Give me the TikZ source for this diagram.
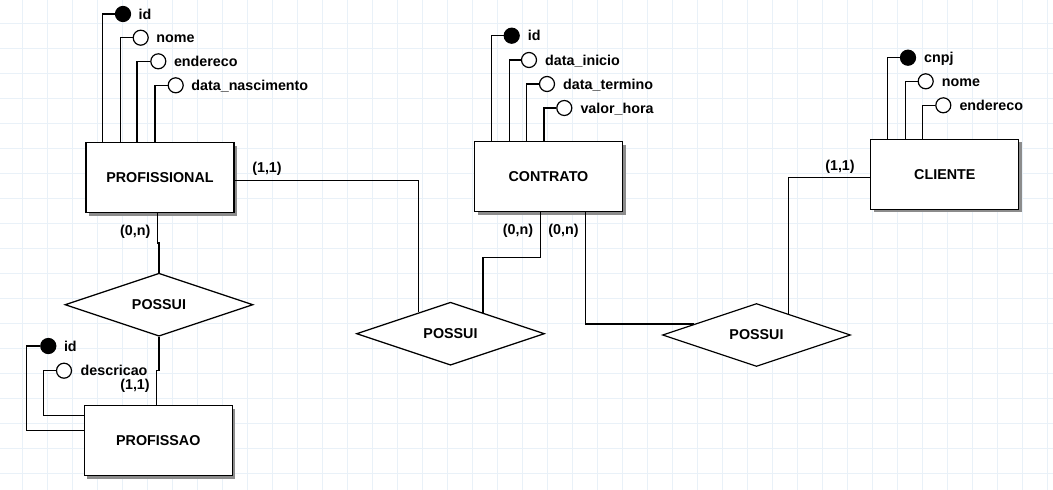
\documentclass[tikz,border=0pt]{standalone}
\usepackage{fontspec}
\setmainfont{Liberation Sans}
\usetikzlibrary{shapes, positioning, shadows}
\definecolor{gridline}{RGB}{233,241,248}

\begin{document}
\begin{tikzpicture}[x=1pt, y=-1pt, line width=1.2pt,
        every node/.style={font=\fontsize{14.3}{17}\selectfont\bfseries},
        entity/.style={draw, fill=white, minimum width=148pt, minimum height=70pt,
            drop shadow={shadow xshift=3pt, shadow yshift=-3pt, fill=black!45, opacity=1}},
        relation/.style={draw, diamond, aspect=3, inner sep=0pt, fill=white,
            minimum width=188pt, minimum height=63pt},
        attr/.style={draw, circle, fill=white, inner sep=0pt, minimum size=15pt},
        key/.style={attr, fill=black},
        attrtext/.style={inner sep=0pt, text height=10pt, text depth=0pt},
        card/.style={inner sep=0pt}]
        \useasboundingbox (0,0) rectangle (1053,490);
        \fill[white] (0,0) rectangle (1053,490);
        \foreach \gx in {0,...,41} \draw[gridline, line width=1pt] (22.7+25*\gx,0) -- (22.7+25*\gx,490);
        \foreach \gy in {0,...,18} \draw[gridline, line width=1pt] (0,23.3+25*\gy) -- (1053,23.3+25*\gy);

        \node[entity] (prof) at (160,177.7) {PROFISSIONAL};
        \node[entity] (contrato) at (548.5,176.8) {CONTRATO};
        \node[entity] (cliente) at (944.8,174.2) {CLIENTE};
        \node[entity] (profissao) at (158.3,440.8) {PROFISSAO};

        \node[relation] (possui1) at (159,304.7) {POSSUI};
        \node[relation] (possui2) at (450.5,333.7) {POSSUI};
        \node[relation] (possui3) at (756.5,335) {POSSUI};

        \node[key] (pid) at (123,14) {}; \node[attrtext, right=7pt of pid] (pidt) {id};
        \node[attr] (pnome) at (140.7,37.7) {}; \node[attrtext, right=7pt of pnome] (pnomet) {nome};
        \node[attr] (pend) at (158.3,61.3) {}; \node[attrtext, right=7pt of pend] (pendt) {endereco};
        \node[attr] (pnasc) at (175.7,85.3) {}; \node[attrtext, right=7pt of pnasc] (pnasct) {data\_nascimento};
        \draw[] ([xshift=17pt]prof.north west) |- (pid.west);
        \draw[] ([xshift=35pt]prof.north west) |- (pnome.west);
        \draw[] ([xshift=51.6pt]prof.north west) |- (pend.west);
        \draw[] ([xshift=69.6pt]prof.north west) |- (pnasc.west);

        \node[key] (cid) at (511.7,35.7) {}; \node[attrtext, right=7.5pt of cid] (cidt) {id};
        \node[attr] (cini) at (529,60) {}; \node[attrtext, right=7.5pt of cini] (cinit) {data\_inicio};
        \node[attr] (cter) at (547,84) {}; \node[attrtext, right=7.5pt of cter] (ctert) {data\_termino};
        \node[attr] (cval) at (564.3,108) {}; \node[attrtext, right=7.5pt of cval] (cvalt) {valor\_hora};
        \draw[] ([xshift=17.4pt]contrato.north west) |- (cid.west);
        \draw[] ([xshift=35.4pt]contrato.north west) |- (cini.west);
        \draw[] ([xshift=52.4pt]contrato.north west) |- (cter.west);
        \draw[] ([xshift=70pt]contrato.north west) |- (cval.west);

        \node[key] (kcnpj) at (908,57.7) {}; \node[attrtext, right=7.5pt of kcnpj] (kcnpjt) {cnpj};
        \node[attr] (knome) at (925.7,81.3) {}; \node[attrtext, right=7.5pt of knome] (knomet) {nome};
        \node[attr] (kend) at (943.3,105.3) {}; \node[attrtext, right=7.5pt of kend] (kendt) {endereco};
        \draw[] ([xshift=17.4pt]cliente.north west) |- (kcnpj.west);
        \draw[] ([xshift=35pt]cliente.north west) |- (knome.west);
        \draw[] ([xshift=52pt]cliente.north west) |- (kend.west);

        \node[key] (fid) at (48.3,346) {}; \node[attrtext, right=7pt of fid] (fidt) {id};
        \node[attr] (fdesc) at (64,370.7) {}; \node[attrtext, right=8pt of fdesc] (fdesct) {descricao};
        \draw[] (fid.west) -- ++(-13.5,0) |- ([yshift=10.5pt]profissao.west);
        \draw[] (fdesc.west) -- ++(-12.2,0) |- ([yshift=25pt]profissao.west);

        \draw[] ([xshift=-2.3pt]prof.south) -- ++(0,29.6) -| (possui1.north);
        \draw[] (possui1.south) -- ++(0,34) -| ([xshift=-1.6pt]profissao.north);
        \draw[] ([yshift=-2.6pt]prof.east) -| (possui2.146.6);
        \draw[] ([xshift=-8.2pt]contrato.south) -- ++(0,45) -| (possui2.33.8);
        \draw[] ([xshift=37.2pt]contrato.south) |- (possui3.170.5);
        \draw[] (possui3.34) |- ([yshift=-3.1pt]cliente.west);

        \node[card] (c1) at (135.3,232) {(0,n)};
        \node[card] (c2) at (135,386) {(1,1)};
        \node[card] (c3) at (267,169) {(1,1)};
        \node[card] (c4) at (518,231) {(0,n)};
        \node[card] (c5) at (563.5,231) {(0,n)};
        \node[card] (c6) at (840,167) {(1,1)};

    \end{tikzpicture}
\end{document}
